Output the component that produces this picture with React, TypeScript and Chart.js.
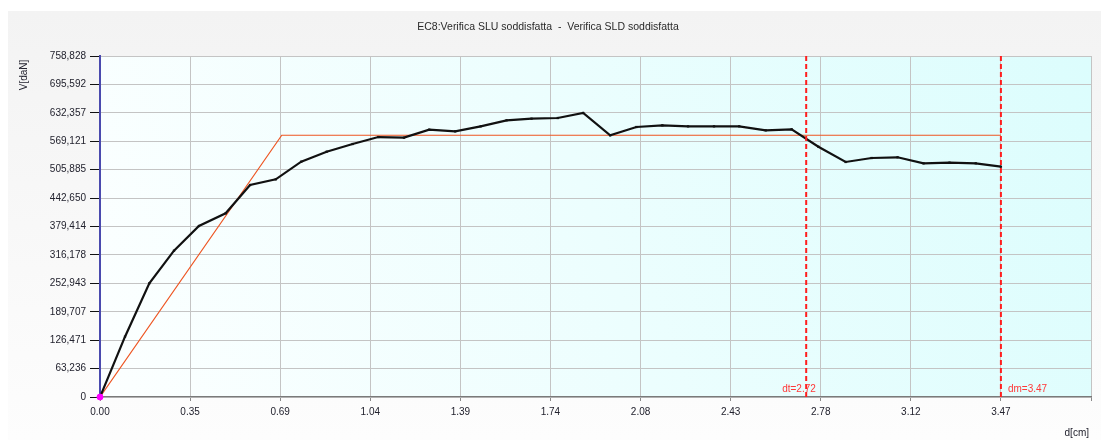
import React, { useEffect, useRef } from "react";
import { Chart, registerables } from "chart.js";

Chart.register(...registerables);

// Measured capacity curve: displacement d [cm] vs base shear V [daN]
const curveD = [
  0, 0.0963, 0.19, 0.285, 0.381, 0.484, 0.578, 0.677, 0.775, 0.873, 0.973, 1.072,
  1.171, 1.268, 1.368, 1.466, 1.566, 1.662, 1.763, 1.861, 1.965, 2.066, 2.166,
  2.265, 2.365, 2.462, 2.564, 2.664, 2.767, 2.872, 2.972, 3.072, 3.172, 3.272,
  3.373, 3.47,
];
const curveV = [
  0, 134.2, 253.0, 325.6, 380.5, 408.8, 471.7, 484.4, 523.6, 545.9, 563.0, 578.5,
  577.1, 594.8, 591.2, 602.3, 615.7, 619.3, 620.8, 632.0, 582.3, 600.8, 604.6,
  602.3, 602.3, 602.3, 593.4, 595.7, 557.0, 523.0, 531.8, 533.4, 520.0, 521.4,
  520.0, 512.5,
];

// Equivalent bilinear system
const bilinearD = [0, 0.7, 3.47];
const bilinearV = [0, 582.5, 582.5];

// Target displacement and ultimate displacement
const dtValue = 2.72;
const dmValue = 3.47;
const dtLabel = "dt=2.72";
const dmLabel = "dm=3.47";

// Axis ticks
const yMax = 758.828;
const yTickLabels = [
  "0", "63,236", "126,471", "189,707", "252,943", "316,178", "379,414",
  "442,650", "505,885", "569,121", "632,357", "695,592", "758,828",
];
const xStep = 0.347;
const xMax = 3.817;
const xTickLabels = [
  "0.00", "0.35", "0.69", "1.04", "1.39", "1.74", "2.08", "2.43", "2.78",
  "3.12", "3.47", "",
];

const titleText = "EC8:Verifica SLU soddisfatta  -  Verifica SLD soddisfatta";
const yTitle = "V[daN]";
const xTitle = "d[cm]";

const FONT = "'Liberation Sans', Arial, sans-serif";
const TEXT = "#22222e";

const decorations = {
  id: "decorations",
  beforeDraw(chart: any) {
    const { ctx, chartArea: a } = chart;
    ctx.save();
    const g = ctx.createLinearGradient(a.left, a.bottom, a.right, a.top);
    g.addColorStop(0, "#fcffff");
    g.addColorStop(1, "#dcfdfd");
    ctx.fillStyle = g;
    ctx.fillRect(a.left, a.top, a.right - a.left, a.bottom - a.top);
    ctx.restore();
  },
  afterDraw(chart: any) {
    const { ctx } = chart;
    const xs = chart.scales.x;
    ctx.save();
    ctx.fillStyle = "#2a2a2a";
    ctx.font = `10.5px ${FONT}`;
    ctx.textAlign = "center";
    ctx.textBaseline = "middle";
    ctx.fillText(titleText, 548, 27);

    ctx.font = `10px ${FONT}`;
    ctx.fillStyle = TEXT;
    ctx.save();
    ctx.translate(24, 75);
    ctx.rotate(-Math.PI / 2);
    ctx.fillText(yTitle, 0, 0);
    ctx.restore();

    ctx.textAlign = "right";
    ctx.fillText(xTitle, 1089, 433);

    ctx.fillStyle = "#ff3838";
    ctx.textAlign = "left";
    ctx.fillText(dtLabel, xs.getPixelForValue(dtValue) - 24, 389);
    ctx.fillText(dmLabel, xs.getPixelForValue(dmValue) + 7, 389);
    ctx.restore();
  },
};

export default function App() {
  const ref = useRef<HTMLCanvasElement>(null);

  useEffect(() => {
    if (!ref.current) return;
    const curve = curveD.map((d, i) => ({ x: d, y: curveV[i] }));
    const bilinear = bilinearD.map((d, i) => ({ x: d, y: bilinearV[i] }));
    const vLine = (d: number) => [
      { x: d, y: 0 },
      { x: d, y: yMax },
    ];

    const chart = new Chart(ref.current, {
      type: "line",
      data: {
        datasets: [
          {
            data: [{ x: 0, y: 0 }],
            pointRadius: 3,
            pointBackgroundColor: "#ff00ff",
            pointBorderColor: "#ff00ff",
            showLine: false,
            clip: false,
            order: 1,
          },
          {
            data: vLine(dtValue),
            borderColor: "#ff1e1e",
            borderWidth: 2,
            borderDash: [5, 3],
            pointRadius: 0,
            order: 2,
          },
          {
            data: vLine(dmValue),
            borderColor: "#ff1e1e",
            borderWidth: 2,
            borderDash: [5, 3],
            pointRadius: 0,
            order: 2,
          },
          {
            data: curve,
            borderColor: "#111111",
            borderWidth: 2.2,
            pointRadius: 1.6,
            pointStyle: "rect",
            pointBackgroundColor: "#111111",
            pointBorderColor: "#111111",
            pointBorderWidth: 0,
            order: 3,
          },
          {
            data: bilinear,
            borderColor: "#ee5522",
            borderWidth: 1.2,
            pointRadius: 0,
            order: 4,
          },
        ],
      },
      options: {
        responsive: false,
        animation: false,
        devicePixelRatio: 1,
        layout: { padding: { left: 0, top: 56, right: 10, bottom: 0 } },
        plugins: {
          legend: { display: false },
          tooltip: { enabled: false },
          title: { display: false },
        },
        scales: {
          x: {
            type: "linear",
            min: 0,
            max: xMax,
            afterBuildTicks: (s: any) => {
              s.ticks = xTickLabels.map((_, i) => ({ value: +(i * xStep).toFixed(3) }));
            },
            afterFit: (s: any) => {
              s.height = 43;
            },
            ticks: {
              autoSkip: false,
              maxRotation: 0,
              padding: 5,
              color: TEXT,
              font: { family: FONT, size: 10 },
              callback: (_v: any, i: number) => xTickLabels[i] ?? "",
            },
            grid: {
              color: "#c4c4c4",
              lineWidth: 1,
              tickColor: "#8a8a8a",
              tickLength: 4,
            },
            border: { color: "#7a7a7a", width: 1.2 },
          },
          y: {
            type: "linear",
            min: 0,
            max: yMax,
            afterBuildTicks: (s: any) => {
              s.ticks = yTickLabels.map((_, i) => ({ value: (yMax * i) / (yTickLabels.length - 1) }));
            },
            afterFit: (s: any) => {
              s.width = 100;
            },
            ticks: {
              autoSkip: false,
              padding: 4,
              color: TEXT,
              font: { family: FONT, size: 10 },
              callback: (_v: any, i: number) => yTickLabels[i] ?? "",
            },
            grid: {
              color: "#c4c4c4",
              lineWidth: 1,
              tickColor: "#111111",
              tickLength: 10,
            },
            border: { color: "#4a4aae", width: 2 },
          },
        },
      } as any,
      plugins: [decorations],
    });
    return () => chart.destroy();
  }, []);

  return (
    <div
      style={{
        position: "absolute",
        left: 0,
        top: 0,
        width: 1101,
        height: 440,
        background: "#ffffff",
        overflow: "hidden",
      }}
    >
      <div
        style={{
          position: "absolute",
          left: 8,
          top: 11,
          right: 0,
          bottom: 0,
          background: "linear-gradient(#f3f3f3, #fdfdfd)",
        }}
      />
      <canvas
        ref={ref}
        width={1101}
        height={440}
        style={{ position: "absolute", left: 0, top: 0, width: 1101, height: 440 }}
      />
    </div>
  );
}
